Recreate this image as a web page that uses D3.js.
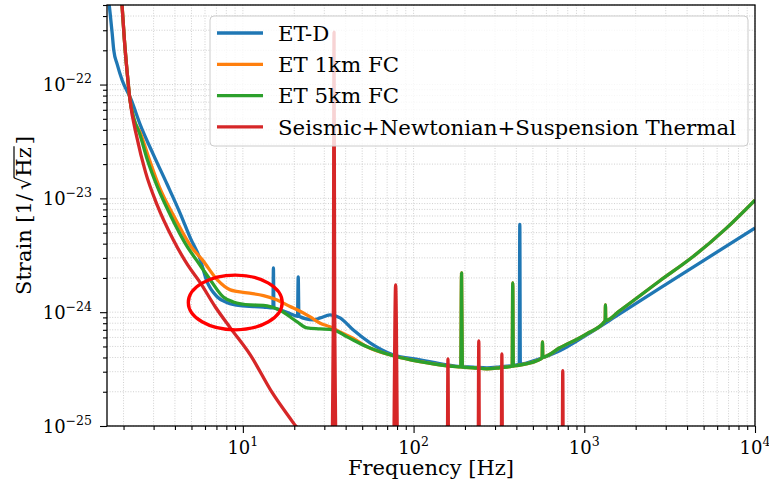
<!DOCTYPE html>
<html><head><meta charset="utf-8">
<script src="https://cdn.jsdelivr.net/npm/d3@7"></script>
<style>
body{margin:0;background:#fff}
svg{display:block}
text{font-family:"DejaVu Serif",serif;fill:#000}
</style>
</head><body>
<svg id="chart" width="769" height="488"></svg>
<script>
// ---------------- data ----------------
const etdFreq   = [1.61, 1.65, 1.716, 1.753, 1.835, 1.963, 2.21, 2.51, 3.00, 3.60, 4.31, 4.92, 5.64, 6.11, 7.09, 8.11, 9.66, 13.2, 15.0, 15.1, 15.2, 16.5, 19.0, 20.9, 21.1, 21.3, 25.8, 28.4, 32.4, 37.1, 44.2, 55.6, 75.8, 109, 157, 187, 223, 269, 320, 402, 416, 419, 422, 527, 718, 1033, 1611, 2761, 4732, 10000];
const etdStrain = [7.0e-22, 4.96e-22, 2.82e-22, 2.0e-22, 1.51e-22, 1.09e-22, 7.43e-23, 4.40e-23, 2.40e-23, 1.33e-23, 7.28e-24, 4.49e-24, 2.88e-24, 1.92e-24, 1.36e-24, 1.21e-24, 1.14e-24, 1.11e-24, 1.09e-24, 2.45e-24, 1.09e-24, 1.05e-24, 9.7e-25, 9.2e-25, 2.04e-24, 9.2e-25, 8.56e-25, 8.9e-25, 9.46e-25, 8.91e-25, 7.0e-25, 5.38e-25, 4.22e-25, 3.82e-25, 3.45e-25, 3.33e-25, 3.29e-25, 3.24e-25, 3.31e-25, 3.45e-25, 3.5e-25, 5.9e-24, 3.5e-25, 3.82e-25, 4.58e-25, 6.32e-25, 9.66e-25, 1.62e-24, 2.70e-24, 5.48e-24];

const fc1Freq   = [1.85, 1.96, 2.02, 2.10, 2.175, 2.30, 2.51, 2.84, 3.24, 3.97, 4.99, 5.79, 7.09, 8.44, 10.6, 13.2, 15.9, 18.9, 20.8, 24.8, 28.4, 32.4, 37.1, 44.2, 53.4, 75.8, 109, 157, 189, 191, 193, 223, 269, 320, 378, 381, 384, 402, 527, 566, 569, 572, 718, 1033, 1325, 1330, 1336, 1611, 2761, 4305, 6804, 10000];
const fc1Strain = [1.5e-21, 4.96e-22, 2.55e-22, 1.28e-22, 7.58e-23, 5.0e-23, 3.74e-23, 2.17e-23, 1.26e-23, 6.85e-24, 3.74e-24, 2.88e-24, 1.92e-24, 1.57e-24, 1.48e-24, 1.40e-24, 1.28e-24, 1.12e-24, 1.05e-24, 9.09e-25, 8.0e-25, 7.43e-25, 6.7e-25, 5.9e-25, 4.97e-25, 4.14e-25, 3.67e-25, 3.38e-25, 3.31e-25, 2.21e-24, 3.29e-25, 3.25e-25, 3.18e-25, 3.25e-25, 3.35e-25, 1.81e-24, 3.36e-25, 3.4e-25, 3.74e-25, 3.97e-25, 5.49e-25, 4.04e-25, 4.87e-25, 6.46e-25, 8.4e-25, 1.16e-24, 8.45e-25, 1.03e-24, 1.88e-24, 3.05e-24, 5.48e-24, 9.66e-24];

const fc5Freq   = [1.85, 1.96, 2.02, 2.10, 2.175, 2.30, 2.48, 2.76, 3.16, 3.81, 4.73, 5.34, 6.45, 7.68, 8.79, 11.05, 13.2, 16.5, 20.8, 23.8, 28.4, 33.8, 40.8, 53.4, 75.8, 109, 157, 189, 191, 193, 223, 269, 320, 378, 381, 384, 402, 527, 566, 569, 572, 718, 1033, 1325, 1330, 1336, 1611, 2761, 4305, 6804, 10000];
const fc5Strain = [1.5e-21, 4.96e-22, 2.55e-22, 1.28e-22, 7.58e-23, 5.0e-23, 3.74e-23, 2.17e-23, 1.26e-23, 6.85e-24, 3.74e-24, 2.88e-24, 1.92e-24, 1.36e-24, 1.23e-24, 1.16e-24, 1.15e-24, 1.04e-24, 8.22e-25, 7.28e-25, 7.14e-25, 7.0e-25, 6.07e-25, 4.97e-25, 4.14e-25, 3.67e-25, 3.38e-25, 3.31e-25, 2.21e-24, 3.29e-25, 3.25e-25, 3.18e-25, 3.25e-25, 3.35e-25, 1.81e-24, 3.36e-25, 3.4e-25, 3.74e-25, 3.97e-25, 5.49e-25, 4.04e-25, 4.87e-25, 6.46e-25, 8.4e-25, 1.16e-24, 8.45e-25, 1.03e-24, 1.88e-24, 3.05e-24, 5.48e-24, 9.66e-24];

const snsFreq   = [1.85, 1.96, 2.02, 2.10, 2.175, 2.40, 2.69, 3.15, 3.89, 4.75, 5.64, 6.90, 8.44, 11.05, 14.86, 19.7, 23.2, 27, 32.5, 33.9, 34.2, 34.5, 36.0, 75.5, 78.5, 81.6, 157, 159, 161, 238, 241, 244, 325, 329, 333, 740, 748, 756, 10000];
const snsStrain = [1.5e-21, 4.96e-22, 2.55e-22, 1.28e-22, 7.58e-23, 3.38e-23, 1.70e-23, 8.73e-24, 4.40e-24, 2.60e-24, 1.81e-24, 1.11e-24, 7.28e-25, 4.22e-25, 1.96e-25, 1.07e-25, 7.6e-26, 4e-26, 1e-26, 1e-24, 2.88e-22, 1e-24, 1e-26, 1e-26, 1.74e-24, 1e-26, 1e-26, 3.89e-25, 1e-26, 1e-26, 5.6e-25, 1e-26, 1e-26, 4.31e-25, 1e-26, 1e-26, 3.06e-25, 1e-26, 1e-26];

const seriesNames  = ["ET-D", "ET 1km FC", "ET 5km FC", "Seismic+Newtonian+Suspension Thermal"];
const seriesColors = ["#1f77b4", "#ff7f0e", "#2ca02c", "#d62728"];

const xMajorTicks  = [10, 100, 1000, 10000];
const xMajorExp    = ["1", "2", "3", "4"];
const yMajorTicks  = [1e-25, 1e-24, 1e-23, 1e-22];
const yMajorExp    = ["\u221225", "\u221224", "\u221223", "\u221222"];

const xDomain = [1.6, 1e4];
const yDomain = [1e-25, 5e-22];

// annotation ellipse (data coords)
const ellipseFreq   = [4.79, 17.0];
const ellipseStrain = [7.0e-25, 2.12e-24];

// ---------------- drawing ----------------
const svg = d3.select("#chart");
const L = 107, R = 755, T = 5, B = 426;
const x = d3.scaleLog().domain(xDomain).range([L, R]);
const y = d3.scaleLog().domain(yDomain).range([B, T]);

function decadeValues(lo, hi) {
  const out = [];
  for (let d = Math.floor(Math.log10(lo)); d <= Math.ceil(Math.log10(hi)); d++)
    for (let k = 1; k <= 9; k++) {
      const v = k * Math.pow(10, d);
      if (v >= lo * 0.9999 && v <= hi * 1.0001) out.push(v);
    }
  return out;
}
const xAll = decadeValues(xDomain[0], xDomain[1]);
const yAll = decadeValues(yDomain[0], yDomain[1]);
const isMajor = v => Math.abs(Math.log10(v) - Math.round(Math.log10(v))) < 1e-6;
const xMinor = xAll.filter(v => !isMajor(v));
const yMinor = yAll.filter(v => !isMajor(v));

// grid
const grid = svg.append("g");
xAll.forEach(v => grid.append("line").attr("x1", x(v)).attr("x2", x(v)).attr("y1", T).attr("y2", B)
  .attr("stroke", "#c4c4c4").attr("stroke-width", 0.8).attr("stroke-dasharray", "1,1.6"));
yAll.forEach(v => grid.append("line").attr("x1", L).attr("x2", R).attr("y1", y(v)).attr("y2", y(v))
  .attr("stroke", "#c4c4c4").attr("stroke-width", 0.8).attr("stroke-dasharray", "1,1.6"));

// clip
svg.append("defs").append("clipPath").attr("id", "clip")
  .append("rect").attr("x", L).attr("y", T).attr("width", R - L).attr("height", B - T);

const plot = svg.append("g").attr("clip-path", "url(#clip)");
const line = d3.line().x(d => x(d[0])).y(d => y(d[1])).curve(d3.curveMonotoneX);
const series = [
  d3.zip(etdFreq, etdStrain),
  d3.zip(fc1Freq, fc1Strain),
  d3.zip(fc5Freq, fc5Strain),
  d3.zip(snsFreq, snsStrain)
];
series.forEach((s, i) => {
  plot.append("path").datum(s).attr("d", line).attr("fill", "none")
    .attr("stroke", seriesColors[i]).attr("stroke-width", 3.3)
    .attr("stroke-linejoin", "round");
});

// annotation ellipse
const ex0 = x(ellipseFreq[0]), ex1 = x(ellipseFreq[1]);
const ey0 = y(ellipseStrain[1]), ey1 = y(ellipseStrain[0]);
svg.append("ellipse").attr("cx", (ex0 + ex1) / 2).attr("cy", (ey0 + ey1) / 2)
  .attr("rx", (ex1 - ex0) / 2).attr("ry", (ey1 - ey0) / 2)
  .attr("fill", "none").attr("stroke", "#ff0000").attr("stroke-width", 3.3);

// axes
const axB = svg.append("g").attr("transform", `translate(0,${B})`);
axB.call(d3.axisBottom(x).tickValues(xMajorTicks).tickSize(7).tickFormat(""));
const axBm = svg.append("g").attr("transform", `translate(0,${B})`);
axBm.call(d3.axisBottom(x).tickValues(xMinor).tickSize(4).tickFormat(""));
const axL = svg.append("g").attr("transform", `translate(${L},0)`);
axL.call(d3.axisLeft(y).tickValues(yMajorTicks).tickSize(7).tickFormat(""));
const axLm = svg.append("g").attr("transform", `translate(${L},0)`);
axLm.call(d3.axisLeft(y).tickValues(yMinor).tickSize(4).tickFormat(""));
[axB, axBm, axL, axLm].forEach(g => {
  g.select(".domain").remove();
  g.selectAll(".tick line").attr("stroke", "#000").attr("stroke-width", 1.1);
});

// frame
svg.append("rect").attr("x", L).attr("y", T).attr("width", R - L).attr("height", B - T)
  .attr("fill", "none").attr("stroke", "#000").attr("stroke-width", 1.3);

// tick labels
const FS = 18, SUP = 12.5;
xMajorTicks.forEach((v, i) => {
  const t = svg.append("text").attr("x", x(v)).attr("y", B + 28).attr("text-anchor", "middle")
    .attr("font-size", FS);
  t.append("tspan").text("10");
  t.append("tspan").attr("dy", -8).attr("font-size", SUP).text(xMajorExp[i]);
});
yMajorTicks.forEach((v, i) => {
  const t = svg.append("text").attr("x", L - 15).attr("y", y(v) + 6.5).attr("text-anchor", "end")
    .attr("font-size", FS);
  t.append("tspan").text("10");
  t.append("tspan").attr("dy", -8).attr("font-size", SUP).text(yMajorExp[i]);
});

// axis titles
svg.append("text").attr("x", (L + R) / 2).attr("y", 475).attr("text-anchor", "middle")
  .attr("font-size", 21).text("Frequency [Hz]");

const yl = svg.append("g").attr("transform", `translate(31,${(T + B) / 2}) rotate(-90)`);
const ylt = yl.append("text").attr("x", 0).attr("y", 0).attr("text-anchor", "middle").attr("font-size", 21);
ylt.append("tspan").text("Strain [1/");
ylt.append("tspan").attr("dx", 4).text("\u221A");
ylt.append("tspan").text("Hz");
ylt.append("tspan").attr("dx", 3).text("]");
try {
  const s = "Strain [1/\u221AHz]";
  const iR = s.indexOf("\u221A");
  const p0 = ylt.node().getEndPositionOfChar(iR);
  const p1 = ylt.node().getEndPositionOfChar(iR + 2);
  yl.append("line").attr("x1", p0.x - 1.2).attr("x2", p1.x + 1).attr("y1", -17).attr("y2", -17)
    .attr("stroke", "#000").attr("stroke-width", 1.2);
} catch (e) {}

// legend
const lg = svg.append("g");
lg.append("rect").attr("x", 210).attr("y", 16).attr("width", 538).attr("height", 130).attr("rx", 4)
  .attr("fill", "#fff").attr("fill-opacity", 0.8).attr("stroke", "#cccccc").attr("stroke-width", 1);
seriesNames.forEach((n, i) => {
  const cy = 33 + i * 31.3;
  lg.append("line").attr("x1", 217).attr("x2", 263).attr("y1", cy).attr("y2", cy)
    .attr("stroke", seriesColors[i]).attr("stroke-width", 3.3);
  lg.append("text").attr("x", 278).attr("y", cy + 7.6).attr("font-size", 21.3).text(n);
});
</script>
</body></html>
